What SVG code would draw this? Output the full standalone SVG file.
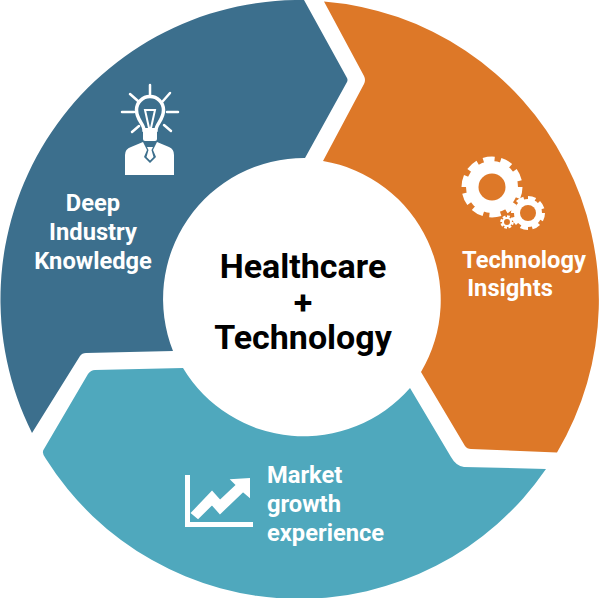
<svg xmlns="http://www.w3.org/2000/svg" width="600" height="598" viewBox="0 0 600 598">
<style>
text{font-family:Roboto,"Liberation Sans",sans-serif;text-anchor:middle;font-weight:700}
.l{font-size:23.7px;fill:#fff}
.c{font-size:34px;fill:#000}
.w{fill:#fff}
.r{stroke:#fff;stroke-width:2.5;fill:none;stroke-linecap:round}
</style>
<rect width="600" height="598" fill="#fff"/>
<g id="segments">
<path id="seg-blue" fill="#3c6f8d" d="M304 0L347 78Q348 80 347 82L305 158A141 141 0 0 0 173 351L86 353Q82 353 80 356L32 433A299.300 299.300 0 0 1 304 0Z"/>
<path id="seg-orange" fill="#dd7828" d="M324 1.500L364 76Q366 80 364 84L323 161A141 141 0 0 1 421 372L465 446Q467 449 471 449L557 452.500A299.300 299.300 0 0 0 324 1.500Z"/>
<path id="seg-teal" fill="#4fa8bd" d="M183 368A141 141 0 0 0 410 388L451 457Q456 466 464 467L546 469A299.300 299.300 0 0 1 46 459Q41 453 44 449L88 374Q91 370 95 370Z"/>
</g>
<g id="node-center"><text class="c" x="303" y="278">Healthcare</text><text class="c" x="303" y="314">+</text><text class="c" x="303" y="349">Technology</text></g>
<g id="node-knowledge">
<g class="r"><path d="M150 85V95M130 94L138 101M170 93L163 101M122 112H134M167 112H178M132 132L139 126M171 131L164 125"/></g>
<path fill="none" stroke="#fff" stroke-width="3.500" d="M144 130C144 124 136.500 120 136.500 110A13.500 13.500 0 0 1 163.500 110C163.500 120 156 124 156 130Z"/>
<path fill="none" stroke="#fff" stroke-width="2" d="M145 110H155L151 128H149Z"/>
<rect class="w" x="143" y="128" width="14" height="13" rx="2"/>
<path class="w" d="M125 175V155Q125 149 131 147L143 142L147 150L144 157L150 163L156 157L153 150L157 142L169 147Q174 149 174 155V175Z"/>
<path class="w" d="M147 147H153L151.500 150L153.500 157L150 160.500L146.500 157L148.500 150Z"/>
<text class="l" x="93" y="211">Deep</text><text class="l" x="93" y="240">Industry</text><text class="l" x="93" y="269">Knowledge</text></g>
<g id="node-insights">
<circle cx="492" cy="187" r="26" class="w"/><circle cx="492" cy="187" r="27.500" fill="none" stroke="#fff" stroke-width="6" pathLength="100" stroke-dasharray="6.500 3.500"/><circle cx="492" cy="187" r="13.500" fill="#dd7828"/>
<circle cx="528" cy="213" r="14" class="w"/><circle cx="528" cy="213" r="15" fill="none" stroke="#fff" stroke-width="4" pathLength="100" stroke-dasharray="8 4.500"/><circle cx="528" cy="213" r="8" fill="#dd7828"/>
<circle cx="507" cy="222" r="5" class="w"/><circle cx="507" cy="222" r="5.500" fill="none" stroke="#fff" stroke-width="2.500" pathLength="100" stroke-dasharray="8 4.500"/><circle cx="507" cy="222" r="3" fill="#dd7828"/>
<text class="l" x="524" y="268">Technology</text><text class="l" x="510" y="296">Insights</text></g>
<g id="node-market">
<path class="w" d="M185 475H190V522H253V527H185Z"/>
<path class="w" stroke="#fff" stroke-width="2" d="M192 513L212 492L220 501L237 485L232 480L249 479V496L243 491L220 513L212 504L198 518Z"/>
<text class="l" x="267" y="483" style="text-anchor:start">Market</text><text class="l" x="267" y="512" style="text-anchor:start">growth</text><text class="l" x="267" y="541" style="text-anchor:start">experience</text></g>
</svg>
